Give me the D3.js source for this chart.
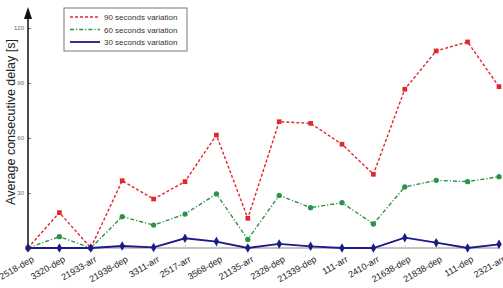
<!DOCTYPE html>
<html>
<head>
<meta charset="utf-8">
<script src="https://cdn.jsdelivr.net/npm/d3@7"></script>
<style>
  body { margin: 0; background: #fff; }
  svg { display: block; font-family: "Liberation Sans", Arial, sans-serif; }
</style>
</head>
<body>
<svg width="503" height="288"></svg>
<script>
let width = 503, height = 288;

let categories = ["2518-dep", "3320-dep", "21933-arr", "21938-dep", "3311-arr", "2517-arr", "3568-dep", "21135-arr",
  "2328-dep", "21339-dep", "111-arr", "2410-arr", "21638-dep", "21838-dep", "111-dep", "2321-arr"];
let var90 = [0, 19.3, 0, 36.7, 26.7, 36.2, 61.6, 16.2, 68.9, 68.0, 56.6, 40.2, 86.6, 107.5, 112.4, 88.0];
let var60 = [0, 6.2, 0, 17.1, 12.5, 18.5, 29.5, 4.7, 28.7, 22.0, 24.7, 13.1, 33.3, 36.9, 36.2, 38.9];
let var30 = [0, 0, 0, 1.1, 0.3, 5.3, 3.5, 0, 2.2, 0.9, 0, 0, 5.6, 2.9, 0, 2.0];
let yTicks = [30, 60, 90, 120];

let series = [
  { name: "90 seconds variation", values: var90, color: "#e3262d", dash: "3,2", marker: d3.symbolSquare, width: 1.4 },
  { name: "60 seconds variation", values: var60, color: "#2a9447", dash: "4,2,1.2,2", marker: d3.symbolCircle, width: 1.4 },
  { name: "30 seconds variation", values: var30, color: "#1e1a86", dash: null, marker: d3.symbolDiamond, width: 1.8 }
];

let svg = d3.select("svg");

let x = d3.scalePoint().domain(categories).range([28, 499]);
let y = d3.scaleLinear().domain([0, 120]).range([248, 28]);

// baseline + category ticks
svg.append("line")
  .attr("x1", 28).attr("x2", 500)
  .attr("y1", y(0)).attr("y2", y(0))
  .attr("stroke", "#888").attr("stroke-width", 1);

let xAxis = svg.append("g")
  .attr("transform", `translate(0,${y(0)})`)
  .call(d3.axisBottom(x).tickSize(-3).tickSizeOuter(0));
xAxis.select(".domain").remove();
xAxis.selectAll(".tick line").attr("stroke", "#ccc");
xAxis.selectAll(".tick text")
  .attr("fill", "#222")
  .attr("font-size", 9)
  .attr("text-anchor", "end")
  .attr("y", 0)
  .attr("dy", 0)
  .attr("transform", "translate(6,13) rotate(-30)");

// y axis with arrow
let yAxis = svg.append("g")
  .attr("transform", "translate(28,0)")
  .call(d3.axisRight(y).tickValues(yTicks).tickSize(3));
yAxis.select(".domain").remove();
yAxis.selectAll(".tick line").attr("stroke", "#777");
yAxis.selectAll(".tick text")
  .attr("x", -4)
  .attr("text-anchor", "end")
  .attr("fill", "#666")
  .attr("font-size", 6);

svg.append("line")
  .attr("x1", 28).attr("x2", 28)
  .attr("y1", y(0)).attr("y2", 14)
  .attr("stroke", "#111").attr("stroke-width", 1.5);
svg.append("path")
  .attr("d", "M28,7 L32,19 L24,19 Z")
  .attr("fill", "#111");

svg.append("text")
  .attr("transform", "translate(15,122) rotate(-90)")
  .attr("text-anchor", "middle")
  .attr("font-size", 12.5)
  .attr("fill", "#222")
  .text("Average consecutive delay [s]");

// series
let line = d3.line().x((d, i) => x(categories[i])).y(d => y(d));

series.forEach(s => {
  svg.append("path")
    .datum(s.values)
    .attr("fill", "none")
    .attr("stroke", s.color)
    .attr("stroke-width", s.width)
    .attr("stroke-dasharray", s.dash)
    .attr("d", line);
  svg.append("g").selectAll("path")
    .data(s.values)
    .join("path")
    .attr("transform", (d, i) => `translate(${x(categories[i])},${y(d)})`)
    .attr("d", d3.symbol().type(s.marker).size(s.marker === d3.symbolDiamond ? 26 : 22))
    .attr("fill", s.color);
});

// legend
let legend = svg.append("g").attr("transform", "translate(64,8)");
legend.append("rect")
  .attr("width", 123).attr("height", 43)
  .attr("fill", "#fff").attr("stroke", "#777").attr("stroke-width", 1);
series.forEach((s, i) => {
  let ly = 9 + i * 12.5;
  legend.append("line")
    .attr("x1", 6).attr("x2", 36).attr("y1", ly).attr("y2", ly)
    .attr("stroke", s.color).attr("stroke-width", s.width)
    .attr("stroke-dasharray", s.dash);
  legend.append("text")
    .attr("x", 40).attr("y", ly + 3)
    .attr("font-size", 8)
    .attr("fill", "#333")
    .text(s.name);
});
</script>
</body>
</html>
